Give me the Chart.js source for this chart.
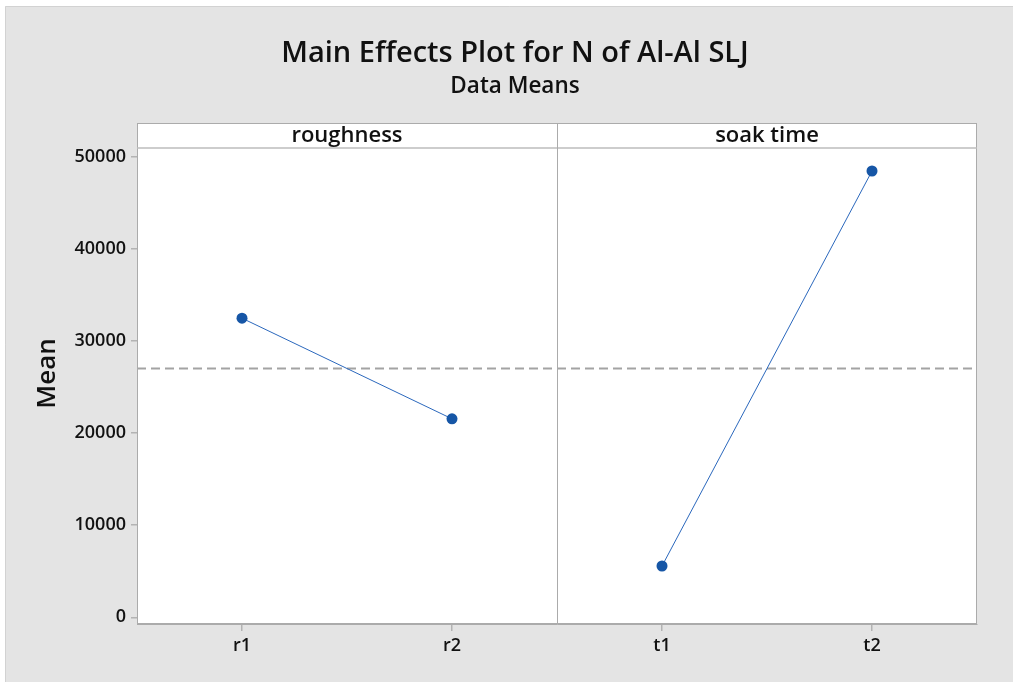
<!DOCTYPE html>
<html>
<head>
<meta charset="utf-8">
<title>Main Effects Plot for N of Al-Al SLJ</title>
<script src="https://cdn.jsdelivr.net/npm/chart.js@4/dist/chart.umd.min.js"></script>
<style>
  html, body { margin: 0; padding: 0; background: #ffffff; }
  #wrap { width: 1013px; height: 682px; position: relative; }
</style>
</head>
<body>
<div id="wrap"><canvas id="chart"></canvas></div>
<script>
// Factor panels and their level means
const panelTitles = ['roughness', 'soak time'];
const roughnessLevels = ['r1', 'r2'];
const soakTimeLevels = ['t1', 't2'];
const roughnessMeans = [32490, 21560];
const soakTimeMeans = [5570, 48480];
const yTickValues = [0, 10000, 20000, 30000, 40000, 50000];

const mainTitle = 'Main Effects Plot for N of Al-Al SLJ';
const subTitle = 'Data Means';
const yAxisTitle = 'Mean';

// Overall mean of the response (reference line)
const allMeans = roughnessMeans.concat(soakTimeMeans);
const grandMean = allMeans.reduce((a, b) => a + b, 0) / allMeans.length;

// Each panel occupies two units on the shared x scale; levels sit at the half units
const panels = [roughnessLevels, soakTimeLevels];
const panelMeans = [roughnessMeans, soakTimeMeans];
const levelTicks = [];
panels.forEach((levels, p) => levels.forEach((lab, i) => levelTicks.push({ value: 2 * p + i + 0.5, label: lab })));

const FONT = 'Open Sans';
const LINE_COL = '#2b68bd';
const POINT_COL = '#1656a6';
const FRAME_COL = '#ababab';
const STRIP_H = 25;

const panelDatasets = panels.map((levels, p) => ({
  label: panelTitles[p],
  data: levels.map((lab, i) => ({ x: 2 * p + i + 0.5, y: panelMeans[p][i] })),
  borderColor: LINE_COL,
  borderWidth: 1,
  pointBackgroundColor: POINT_COL,
  pointBorderColor: POINT_COL,
  pointRadius: 5.5,
  pointBorderWidth: 0,
  showLine: true,
  order: 1
}));

const meanDataset = {
  label: 'mean',
  data: [{ x: 0, y: grandMean }, { x: 2 * panels.length, y: grandMean }],
  borderColor: '#a3a3a3',
  borderWidth: 2,
  borderDash: [9, 5],
  pointRadius: 0,
  showLine: true,
  order: 2
};

const framePlugin = {
  id: 'minitabFrame',
  beforeDraw(chart) {
    const { ctx, chartArea: a } = chart;
    ctx.save();
    ctx.fillStyle = '#ffffff';
    ctx.fillRect(0, 0, chart.width, chart.height);
    ctx.fillStyle = '#e4e4e4';
    ctx.fillRect(5, 6, chart.width - 5, chart.height - 6);
    ctx.strokeStyle = '#d2d2d2';
    ctx.lineWidth = 1;
    ctx.beginPath();
    ctx.moveTo(5.5, chart.height);
    ctx.lineTo(5.5, 6.5);
    ctx.lineTo(chart.width, 6.5);
    ctx.stroke();
    // plotting region and header strip
    ctx.fillStyle = '#ffffff';
    ctx.fillRect(a.left, a.top - STRIP_H, a.right - a.left, a.bottom - a.top + STRIP_H);
    // titles
    ctx.fillStyle = '#111111';
    ctx.textAlign = 'center';
    ctx.textBaseline = 'middle';
    ctx.font = '600 29px "' + FONT + '"';
    ctx.fillText(mainTitle, 515, 54);
    ctx.font = '600 22.5px "' + FONT + '"';
    ctx.fillText(subTitle, 515, 87);
    // y-axis title, centred on the full panel height including the strip
    ctx.save();
    ctx.translate(48, (a.top - STRIP_H + a.bottom) / 2);
    ctx.rotate(-Math.PI / 2);
    ctx.font = '600 26px "' + FONT + '"';
    ctx.fillText(yAxisTitle, 0, 0);
    ctx.restore();
    ctx.restore();
  },
  afterDraw(chart) {
    const { ctx, chartArea: a, scales } = chart;
    const xs = scales.x;
    ctx.save();
    ctx.strokeStyle = FRAME_COL;
    ctx.lineWidth = 1;
    const top = a.top - STRIP_H;
    ctx.strokeRect(Math.round(a.left) + 0.5, Math.round(top) + 0.5,
      Math.round(a.right - a.left) - 1, Math.round(a.bottom - top) - 1);
    ctx.strokeStyle = '#bcbcbc';
    ctx.lineWidth = 1.5;
    ctx.beginPath();
    ctx.moveTo(a.left, a.top);
    ctx.lineTo(a.right, a.top);
    ctx.stroke();
    // panel dividers
    ctx.strokeStyle = FRAME_COL;
    ctx.lineWidth = 1;
    for (let p = 1; p < panels.length; p++) {
      const px = Math.round(xs.getPixelForValue(2 * p)) + 0.5;
      ctx.beginPath();
      ctx.moveTo(px, top);
      ctx.lineTo(px, a.bottom);
      ctx.stroke();
    }
    // panel headings
    ctx.fillStyle = '#111111';
    ctx.textAlign = 'center';
    ctx.textBaseline = 'middle';
    ctx.font = '600 22px "' + FONT + '"';
    panelTitles.forEach((t, p) => {
      const cx = xs.getPixelForValue(2 * p + 1);
      ctx.fillText(t, cx, top + STRIP_H / 2);
    });
    ctx.restore();
  }
};

new Chart(document.getElementById('chart'), {
  type: 'scatter',
  data: { datasets: [...panelDatasets, meanDataset] },
  plugins: [framePlugin],
  options: {
    responsive: true,
    maintainAspectRatio: false,
    animation: false,
    events: [],
    layout: { padding: { top: 148, right: 36, bottom: 0, left: 0 } },
    plugins: { legend: { display: false }, tooltip: { enabled: false }, title: { display: false } },
    scales: {
      x: {
        type: 'linear',
        min: 0,
        max: 2 * panels.length,
        afterBuildTicks(scale) { scale.ticks = levelTicks.map(t => ({ value: t.value })); },
        afterFit(scale) { scale.height = 58; },
        ticks: {
          padding: 4,
          color: '#111111',
          font: { family: FONT, size: 18, weight: '600' },
          callback(v) {
            const t = levelTicks.find(k => Math.abs(k.value - v) < 1e-6);
            return t ? t.label : '';
          }
        },
        grid: { drawOnChartArea: false, drawTicks: true, tickLength: 7, color: '#b3b3b3', lineWidth: 1.5 },
        border: { display: true, color: FRAME_COL }
      },
      y: {
        min: -730,
        max: 50980,
        afterBuildTicks(scale) { scale.ticks = yTickValues.map(v => ({ value: v })); },
        afterFit(scale) { scale.width = 137; },
        ticks: {
          padding: 5,
          color: '#111111',
          font: { family: FONT, size: 18, weight: '600' },
          callback: v => String(v)
        },
        grid: { drawOnChartArea: false, drawTicks: true, tickLength: 6, color: '#b3b3b3', lineWidth: 1.5 },
        border: { display: true, color: FRAME_COL }
      }
    }
  }
});
</script>
</body>
</html>
